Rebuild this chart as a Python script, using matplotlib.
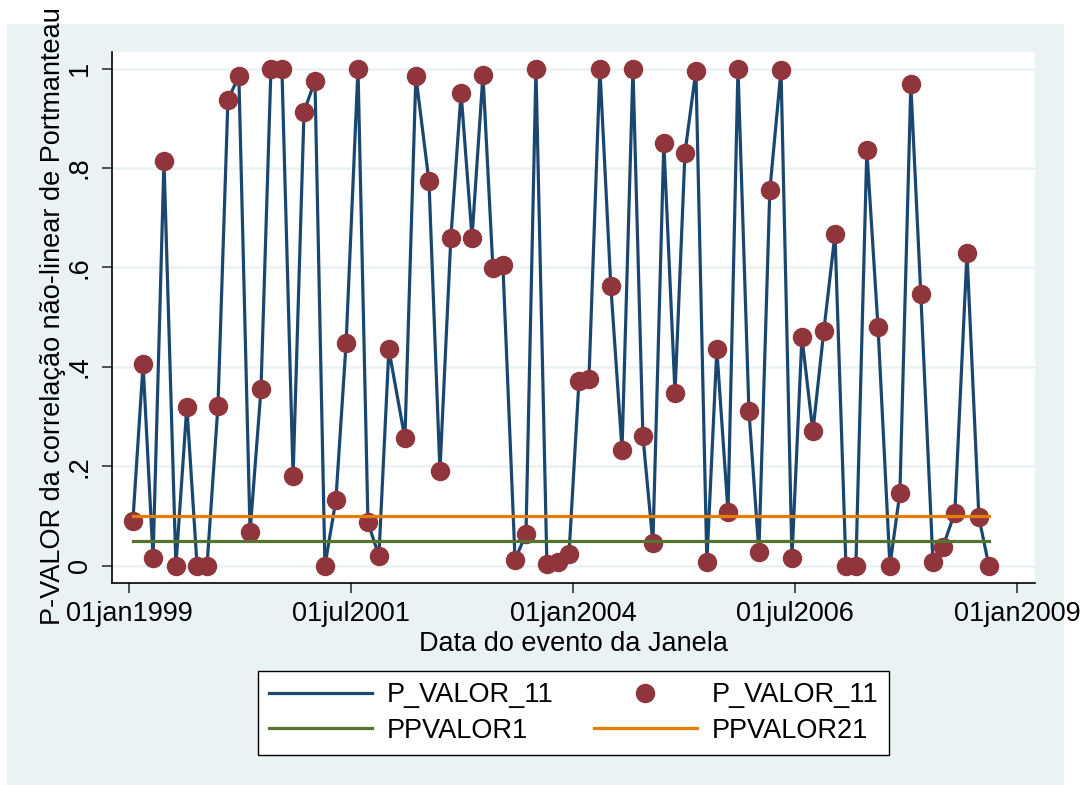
import pandas as pd
from matplotlib import pyplot as plt
from matplotlib.lines import Line2D
from matplotlib.patches import Rectangle

plt.rcParams['font.family'] = ['Liberation Sans', 'DejaVu Sans']

# event window dates and Portmanteau p-values
datas = ['1999-01-17', '1999-02-28', '1999-04-10', '1999-05-25', '1999-07-13',
         '1999-08-27', '1999-10-08', '1999-11-18', '2000-01-02', '2000-02-12',
         '2000-03-28', '2000-05-13', '2000-06-27', '2000-08-07', '2000-09-21',
         '2000-11-06', '2000-12-21', '2001-02-04', '2001-03-17', '2001-05-01',
         '2001-06-12', '2001-07-31', '2001-09-10', '2001-10-25', '2001-12-05',
         '2002-02-09', '2002-03-26', '2002-05-19', '2002-07-03', '2002-08-17',
         '2002-09-28', '2002-11-12', '2002-12-27', '2003-02-06', '2003-03-19',
         '2003-05-08', '2003-06-22', '2003-08-02', '2003-09-16', '2003-10-31',
         '2003-12-16', '2004-01-26', '2004-03-07', '2004-04-21', '2004-06-05',
         '2004-07-21', '2004-09-04', '2004-10-15', '2004-11-25', '2005-01-09',
         '2005-02-24', '2005-04-06', '2005-05-21', '2005-07-05', '2005-08-15',
         '2005-09-30', '2005-11-10', '2005-12-25', '2006-02-04', '2006-03-21',
         '2006-05-06', '2006-06-20', '2006-07-31', '2006-09-14', '2006-10-29',
         '2006-12-14', '2007-01-28', '2007-03-10', '2007-04-24', '2007-06-09',
         '2007-07-28', '2007-09-07', '2007-10-22', '2007-12-02', '2008-01-21',
         '2008-03-02', '2008-04-20', '2008-06-09', '2008-07-28', '2008-09-07']
p_valor_11 = [0.090, 0.405, 0.015, 0.815, 0.000, 0.320, 0.000, 0.000, 0.322, 0.937,
              0.985, 0.068, 0.355, 1.000, 1.000, 0.180, 0.913, 0.976, 0.000, 0.132,
              0.447, 1.000, 0.087, 0.020, 0.435, 0.256, 0.985, 0.773, 0.190, 0.660,
              0.951, 0.660, 0.987, 0.598, 0.605, 0.012, 0.064, 1.000, 0.003, 0.008,
              0.024, 0.372, 0.376, 1.000, 0.562, 0.233, 1.000, 0.260, 0.045, 0.850,
              0.347, 0.831, 0.996, 0.007, 0.435, 0.108, 1.000, 0.312, 0.028, 0.755,
              0.997, 0.016, 0.460, 0.270, 0.472, 0.667, 0.000, 0.000, 0.836, 0.480,
              0.000, 0.147, 0.968, 0.546, 0.007, 0.038, 0.107, 0.630, 0.097, 0.000]
ppvalor1 = [0.05] * len(datas)
ppvalor21 = [0.10] * len(datas)

x_ticks = ['1999-01-01', '2001-07-01', '2004-01-01', '2006-07-01', '2009-01-01']
x_ticklabels = ['01jan1999', '01jul2001', '01jan2004', '01jul2006', '01jan2009']
y_ticks = [0, 0.2, 0.4, 0.6, 0.8, 1.0]
y_ticklabels = ['0', '.2', '.4', '.6', '.8', '1']

datas = pd.to_datetime(datas)

bg = '#eaf2f3'
fig = plt.figure(figsize=(10.87, 7.85), dpi=100, facecolor='white')
# graph region (light bluish gray), inset from the image edges
fig.patches.append(Rectangle((7 / 1087, 0), 1057 / 1087, 761 / 785,
                             transform=fig.transFigure, facecolor=bg,
                             edgecolor='none', zorder=-10))

ax = fig.add_axes([0.103, 0.2573, 0.849, 0.6765])
ax.set_facecolor('white')

ax.plot(datas, p_valor_11, c='#1a476f', lw=2.3, zorder=2)
ax.plot(datas, p_valor_11, ls='none', marker='o', ms=13,
        mfc='#90353b', mec='#90353b', zorder=3)
ax.plot(datas, ppvalor1, c='#55752f', lw=2.3, zorder=4)
ax.plot(datas, ppvalor21, c='#e37e00', lw=2.3, zorder=5)

ax.set_xlim(pd.Timestamp('1999-01-01') - pd.Timedelta(days=70),
            pd.Timestamp('1999-01-01') + pd.Timedelta(days=3726))
ax.set_ylim(-0.0348, 1.0334)

ax.set_xticks(pd.to_datetime(x_ticks))
ax.set_xticklabels(x_ticklabels)
ax.set_yticks(y_ticks)
ax.set_yticklabels(y_ticklabels, rotation=90, va='center')
ax.grid(axis='y', color=bg, lw=1.8, zorder=0)
ax.set_axisbelow(True)

for s in ['top', 'right']:
    ax.spines[s].set_visible(False)
for s in ['left', 'bottom']:
    ax.spines[s].set_color('black')
    ax.spines[s].set_linewidth(1.2)

ax.tick_params(axis='both', which='major', labelsize=19.5, direction='out',
               length=7, width=1.2, color='#333333')
ax.tick_params(axis='x', pad=6)
ax.tick_params(axis='y', pad=7)

ax.set_xlabel('Data do evento da Janela', fontsize=19.5, labelpad=3)
ax.set_ylabel('P-VALOR da correlação não-linear de Portmanteau', fontsize=19.5)
ax.yaxis.set_label_coords(-0.05, 0.502)

handles = [Line2D([], [], c='#1a476f', lw=2.3),
           Line2D([], [], c='#55752f', lw=2.3),
           Line2D([], [], ls='none', marker='o', ms=13, mfc='#90353b', mec='#90353b'),
           Line2D([], [], c='#e37e00', lw=2.3)]
labels = ['P_VALOR_11', 'PPVALOR1', 'P_VALOR_11', 'PPVALOR21']
leg = fig.legend(handles, labels, ncol=2, loc='center',
                 bbox_to_anchor=(0.5276, 0.0917), bbox_transform=fig.transFigure,
                 fontsize=19.5, frameon=True, fancybox=False, edgecolor='black',
                 handlelength=3.8, handletextpad=0.55, columnspacing=1.5,
                 labelspacing=0.35, borderpad=0.4)
leg.get_frame().set_linewidth(1.0)
leg.get_frame().set_alpha(1)

plt.savefig('out.png', dpi=100, facecolor='white')
